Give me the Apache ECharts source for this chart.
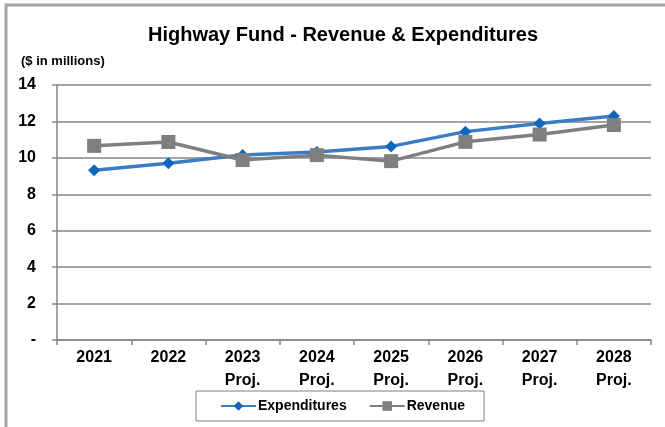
<!DOCTYPE html>
<html>
<head>
<meta charset="utf-8">
<style>
  html, body { margin: 0; padding: 0; background: #fff; }
  #chart { width: 665px; height: 427px; }
</style>
<script src="https://cdn.jsdelivr.net/npm/echarts@6/dist/echarts.min.js"></script>
</head>
<body>
<div id="chart"></div>
<script>
// Fiscal years shown on the category axis
const years = ['2021', '2022', '2023\nProj.', '2024\nProj.', '2025\nProj.', '2026\nProj.', '2027\nProj.', '2028\nProj.'];
// Values in $ millions
const expenditures = [9.32, 9.70, 10.16, 10.32, 10.63, 11.44, 11.88, 12.30];
const revenue = [10.66, 10.87, 9.88, 10.15, 9.82, 10.88, 11.28, 11.80];
// Value-axis range and step
const yMin = 0, yMax = 14, yStep = 2;

const font = 'Liberation Sans, Arial, sans-serif';
const chart = echarts.init(document.getElementById('chart'), null, { renderer: 'canvas' });

chart.setOption({
  animation: false,
  backgroundColor: '#fff',
  textStyle: { fontFamily: font },
  title: {
    text: 'Highway Fund - Revenue & Expenditures',
    left: 338, top: 20, textAlign: 'center',
    textStyle: { fontFamily: font, fontSize: 20, fontWeight: 'bold', color: '#000' }
  },
  graphic: [
    {
      type: 'rect', silent: true,
      shape: { x: 6, y: 5, width: 720, height: 480 },
      style: { fill: 'none', stroke: '#a6a6a6', lineWidth: 3 }
    },
    {
      type: 'text', left: 21, top: 55, silent: true,
      style: { text: '($ in millions)', fontFamily: font, fontSize: 13, fontWeight: 'bold', fill: '#000' }
    }
  ],
  legend: {
    left: 196, top: 391,
    itemWidth: 35, itemHeight: 12, itemGap: 22,
    padding: [8, 19, 8, 24],
    borderColor: '#7f7f7f', borderWidth: 1,
    textStyle: { fontFamily: font, fontSize: 14, fontWeight: 'bold', color: '#000', padding: [0, 0, 0, -3] },
    data: ['Expenditures', 'Revenue']
  },
  grid: { left: 57, right: 14, top: 85, bottom: 87 },
  xAxis: {
    type: 'category',
    data: years,
    boundaryGap: true,
    axisLine: { lineStyle: { color: '#868686', width: 1.5 } },
    axisTick: { show: true, length: 5, lineStyle: { color: '#868686', width: 1.5 } },
    axisLabel: {
      margin: 6, color: '#000', fontFamily: font, fontSize: 16, fontWeight: 'bold', lineHeight: 23, interval: 0
    },
    splitLine: { show: false }
  },
  yAxis: {
    type: 'value',
    min: yMin, max: yMax, interval: yStep,
    axisLine: { show: true, lineStyle: { color: '#868686', width: 1.5 } },
    axisTick: { show: true, length: 5, lineStyle: { color: '#868686', width: 1.5 } },
    axisLabel: {
      margin: 21, color: '#000', fontFamily: font, fontSize: 16, fontWeight: 'bold',
      formatter: v => (v === 0 ? '-' : String(v))
    },
    splitLine: { show: true, lineStyle: { color: '#868686', width: 1.5 } }
  },
  series: [
    {
      name: 'Expenditures', type: 'line', data: expenditures,
      symbol: 'diamond', symbolSize: 12,
      lineStyle: { color: '#3b7cc6', width: 3.5 },
      itemStyle: { color: '#0e66bf' },
      z: 3
    },
    {
      name: 'Revenue', type: 'line', data: revenue,
      symbol: 'rect', symbolSize: 14,
      lineStyle: { color: '#7f7f7f', width: 3.5 },
      itemStyle: { color: '#7f7f7f' },
      z: 4
    }
  ]
});
</script>
</body>
</html>
